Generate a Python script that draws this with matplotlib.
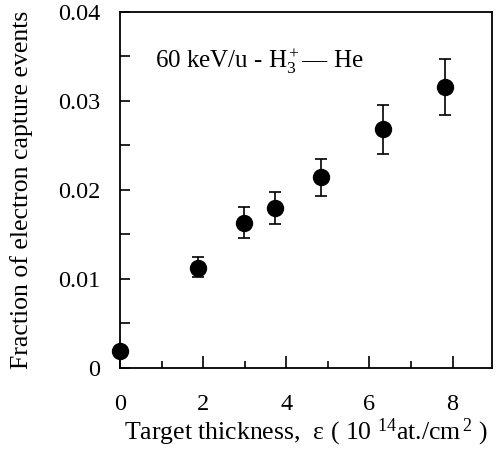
import matplotlib
matplotlib.use('Agg')
import matplotlib.pyplot as plt
from matplotlib.ticker import MultipleLocator

# target thickness (10^14 at./cm^2) and fraction of capture events
thickness = [0.0, 1.88, 2.98, 3.73, 4.83, 6.32, 7.81]
fraction = [0.0019, 0.0112, 0.0163, 0.0180, 0.0214, 0.0268, 0.0315]
err_lo = [0.0, 0.0010, 0.0017, 0.0018, 0.0021, 0.0028, 0.0031]
err_hi = [0.0, 0.0012, 0.0018, 0.0018, 0.0021, 0.0027, 0.0032]


def main():
    plt.rcParams['font.family'] = ['Liberation Serif', 'DejaVu Serif']
    plt.rcParams['mathtext.fontset'] = 'custom'
    plt.rcParams['mathtext.rm'] = 'Liberation Serif'
    plt.rcParams['mathtext.it'] = 'Liberation Serif:italic'

    fig = plt.figure(figsize=(4.96, 4.53), dpi=100)
    ax = fig.add_axes([0.242, 0.188, 0.750, 0.786])

    ax.errorbar(thickness, fraction, yerr=[err_lo, err_hi], fmt='o',
                color='black', markersize=11.5, capsize=4, elinewidth=1.2,
                capthick=1.2, clip_on=False, zorder=3)

    ax.set_xlim(0, 8.95)
    ax.set_ylim(0, 0.04)
    ax.xaxis.set_major_locator(MultipleLocator(2))
    ax.xaxis.set_minor_locator(MultipleLocator(1))
    ax.yaxis.set_minor_locator(MultipleLocator(0.005))
    ax.set_yticks([0, 0.01, 0.02, 0.03, 0.04])
    ax.set_yticklabels(['0', '0.01', '0.02', '0.03', '0.04'])
    ax.tick_params(which='both', direction='in', labelsize=17.5, width=1.2)
    ax.tick_params(axis='x', which='major', length=9, pad=19)
    ax.tick_params(axis='x', which='minor', length=5)
    ax.tick_params(axis='y', which='both', length=7, pad=14)
    for s in ax.spines.values():
        s.set_linewidth(1.3)

    ax.set_xlabel('Target thickness,  \u03b5 ( 10 $^{14}$at./cm$^{\\,2}$ )',
                  fontsize=18.5, labelpad=1)
    ax.set_ylabel('Fraction of electron capture events', fontsize=18.5,
                  labelpad=18)

    ax.text(0.84, 0.0344, '60 keV/u - H$_3^+$\u2014 He', fontsize=18,
            va='center', ha='left')

    fig.savefig('out.png', dpi=100)


if __name__ == '__main__':
    main()
